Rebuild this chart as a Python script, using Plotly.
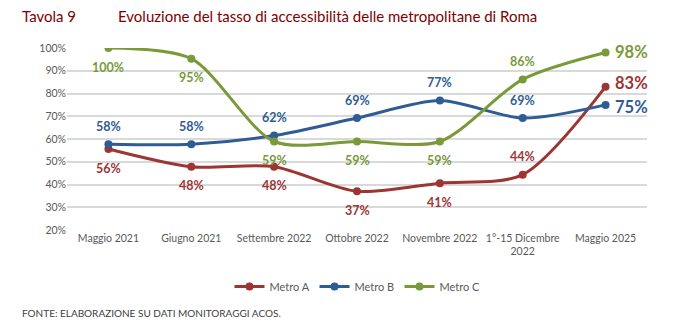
import plotly.graph_objects as go

categories = ["Maggio 2021", "Giugno 2021", "Settembre 2022", "Ottobre 2022",
              "Novembre 2022", "1°-15 Dicembre<br>2022", "Maggio 2025"]
metro_a = [55.6, 47.8, 47.8, 37.0, 40.6, 44.3, 83.0]
metro_b = [57.7, 57.7, 61.5, 69.2, 76.9, 69.2, 75.0]
metro_c = [100.0, 95.3, 58.9, 58.9, 58.9, 86.2, 98.0]
labels_a = ["56%", "48%", "48%", "37%", "41%", "44%", "83%"]
labels_b = ["58%", "58%", "62%", "69%", "77%", "69%", "75%"]
labels_c = ["100%", "95%", "59%", "59%", "59%", "86%", "98%"]
y_ticks = [20, 30, 40, 50, 60, 70, 80, 90, 100]
y_tick_labels = ["20%", "30%", "40%", "50%", "60%", "70%", "80%", "90%", "100%"]

# label placement: b=below, t=above, r=right (big)
pos_a = ["b", "b", "b", "b", "b", "t", "r"]
pos_b = ["t", "t", "t", "t", "t", "t", "r"]
pos_c = ["b", "b", "b", "b", "b", "t", "r"]
rshift = {"Metro A": 4, "Metro B": -2, "Metro C": 1}

RED = "#9C3634"
BLUE = "#2F5C95"
GREEN = "#7A9A3A"
FONT = "Lato, 'Liberation Sans Narrow', sans-serif"

series = [("Metro A", metro_a, labels_a, pos_a, RED),
          ("Metro B", metro_b, labels_b, pos_b, BLUE),
          ("Metro C", metro_c, labels_c, pos_c, GREEN)]

fig = go.Figure()
annotations = []
xidx = list(range(len(categories)))
for name, vals, labs, pos, col in series:
    fig.add_trace(go.Scatter(
        x=xidx, y=vals, name=name, mode="lines+markers",
        line=dict(color=col, width=3, shape="spline", smoothing=0.8),
        marker=dict(color=col, size=8),
    ))
    for i, (v, lab, p) in enumerate(zip(vals, labs, pos)):
        if p == "r":
            annotations.append(dict(x=i, y=v, xref="x", yref="y", text="<b>%s</b>" % lab,
                                    showarrow=False, xanchor="left", xshift=7,
                                    yshift=rshift[name],
                                    font=dict(family=FONT, size=16.5, color=col)))
        else:
            annotations.append(dict(x=i, y=v, xref="x", yref="y", text="<b>%s</b>" % lab,
                                    showarrow=False, yshift=(18 if p == "t" else -19),
                                    font=dict(family=FONT, size=12.5, color=col)))

annotations.append(dict(x=-0.081, y=1.176, xref="paper", yref="paper", text="Tavola 9",
                        showarrow=False, xanchor="left", yanchor="middle",
                        font=dict(family=FONT, size=15, color="#800000")))
annotations.append(dict(x=0.084, y=1.176, xref="paper", yref="paper",
                        text="Evoluzione del tasso di accessibilità delle metropolitane di Roma",
                        showarrow=False, xanchor="left", yanchor="middle",
                        font=dict(family=FONT, size=15, color="#800000")))
annotations.append(dict(x=-0.081, y=-0.456, xref="paper", yref="paper",
                        text="FONTE: ELABORAZIONE SU DATI MONITORAGGI ACOS.",
                        showarrow=False, xanchor="left", yanchor="middle",
                        font=dict(family=FONT, size=10, color="#404040")))

fig.update_layout(
    width=681, height=327,
    margin=dict(l=67, r=34, t=48, b=97),
    paper_bgcolor="white", plot_bgcolor="white",
    font=dict(family=FONT, size=10.5, color="#595959"),
    showlegend=True,
    legend=dict(orientation="h", x=0.5, xanchor="center", y=-0.31, yanchor="middle",
                font=dict(family=FONT, size=11, color="#595959"), itemwidth=30,
                entrywidth=40, entrywidthmode="pixels"),
    annotations=annotations,
    xaxis=dict(tickmode="array", tickvals=xidx, ticktext=categories, range=[-0.5, 6.5],
               showgrid=False, zeroline=False, showline=False, ticks="",
               tickfont=dict(size=10.5, color="#595959")),
    yaxis=dict(range=[20, 100], tickvals=y_ticks, ticktext=y_tick_labels,
               showgrid=True, gridcolor="#D9D9D9", gridwidth=1.5, zeroline=False,
               ticks="", tickfont=dict(size=10.5, color="#595959")),
)

fig.write_html("out.html")
